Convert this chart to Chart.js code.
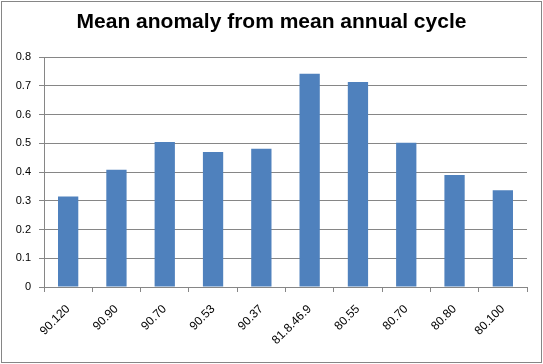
<!DOCTYPE html>
<html>
<head>
<meta charset="utf-8">
<script src="https://cdn.jsdelivr.net/npm/chart.js@4"></script>
<style>
  html, body { margin: 0; padding: 0; background: #fff; }
  #wrap { width: 543px; height: 364px; }
</style>
</head>
<body>
<div id="wrap"><canvas id="anomaly" width="543" height="364"></canvas></div>
<script>
// categories and values
const labels = ['90.120', '90.90', '90.70', '90.53', '90.37', '81.8.46.9', '80.55', '80.70', '80.80', '80.100'];
const meanAnomaly = [0.315, 0.408, 0.505, 0.47, 0.481, 0.742, 0.714, 0.502, 0.39, 0.337];
const yTicks = [0, 0.1, 0.2, 0.3, 0.4, 0.5, 0.6, 0.7, 0.8];

const gray = '#868686';

// white background + thin frame like the excel chart area
const frame = {
  id: 'frame',
  beforeDraw(chart) {
    const c = chart.ctx;
    c.save();
    c.fillStyle = '#fff';
    c.fillRect(0, 0, chart.width, chart.height);
    c.strokeStyle = gray;
    c.lineWidth = 1;
    c.strokeRect(1.5, 1.5, chart.width - 3, chart.height - 3);
    c.restore();
  }
};

new Chart(document.getElementById('anomaly'), {
  type: 'bar',
  data: {
    labels: labels,
    datasets: [{
      label: 'Mean anomaly',
      data: meanAnomaly,
      backgroundColor: '#4F81BD',
      borderWidth: 0,
      barPercentage: 0.42,
      categoryPercentage: 1
    }]
  },
  options: {
    responsive: false,
    animation: false,
    layout: { padding: { left: 16, right: 16, top: 0, bottom: 14 } },
    plugins: {
      legend: { display: false },
      tooltip: { enabled: false },
      title: {
        display: true,
        text: 'Mean anomaly from mean annual cycle',
        color: '#000',
        font: { family: 'Liberation Sans', size: 21, weight: 'bold', lineHeight: 1.2 },
        padding: { top: 10, bottom: 22 }
      }
    },
    scales: {
      x: {
        grid: { display: true, drawOnChartArea: false, color: gray, tickLength: 5, offset: true },
        border: { color: gray },
        ticks: {
          color: '#000',
          font: { family: 'Liberation Sans', size: 12 },
          minRotation: 45,
          maxRotation: 45,
          padding: 10
        },
        afterFit(s) { s.height = 63; }
      },
      y: {
        min: 0,
        max: 0.8,
        afterBuildTicks(s) { s.ticks = yTicks.map(v => ({ value: v })); },
        grid: { color: gray, tickLength: 5 },
        border: { color: gray },
        ticks: {
          color: '#000',
          font: { family: 'Liberation Sans', size: 11 },
          padding: 8,
          callback: v => v === 0 ? '0' : v.toFixed(1)
        },
        afterFit(s) { s.width = 28; }
      }
    }
  },
  plugins: [frame]
});
</script>
</body>
</html>
